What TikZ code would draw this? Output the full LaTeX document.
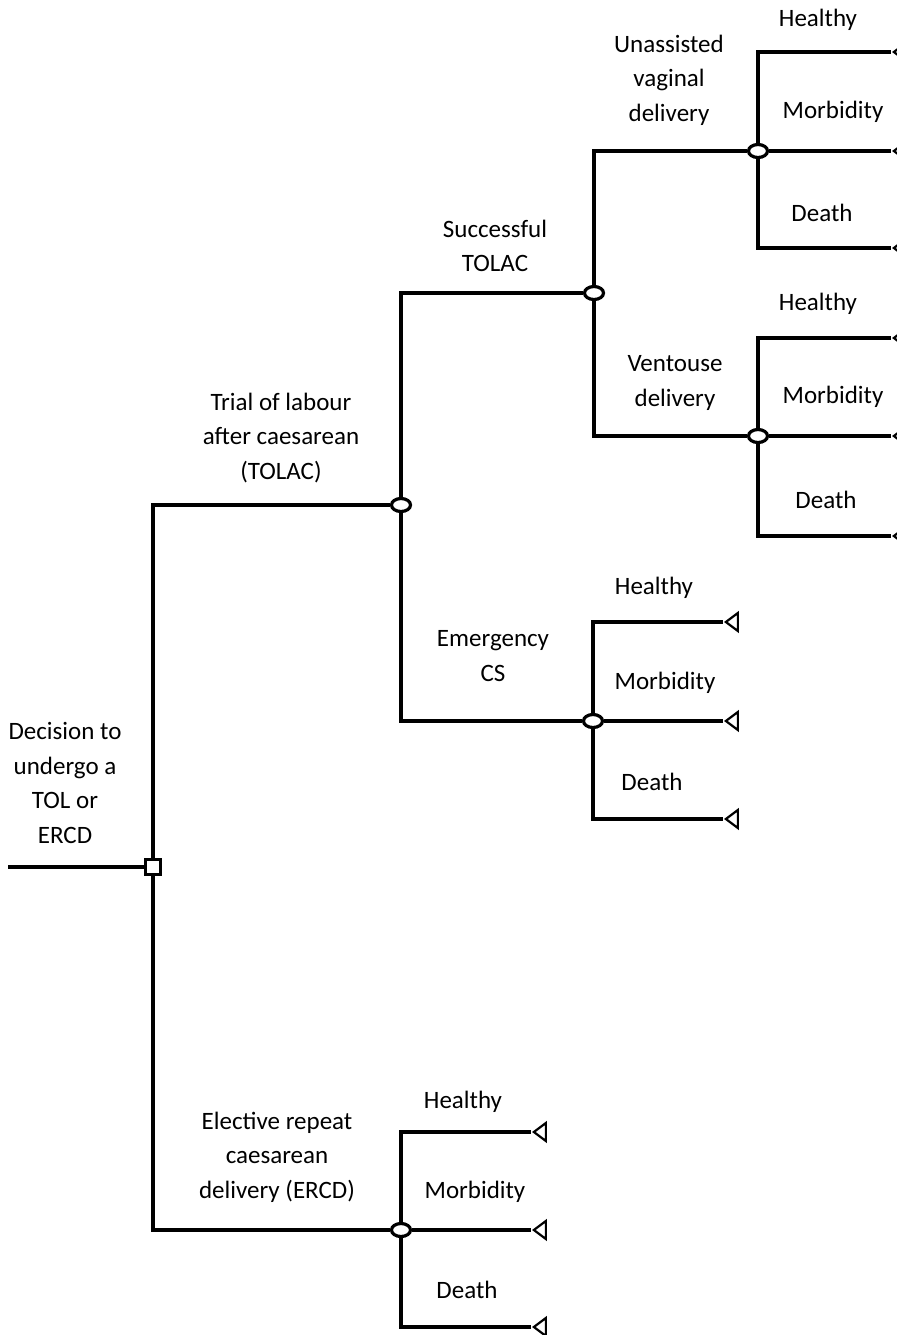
\documentclass[tikz,border=0pt]{standalone}
\usepackage{fontspec}
\setmainfont{Carlito}
\usetikzlibrary{shapes.geometric,positioning}

\tikzset{
    decision/.style={draw, rectangle, fill=white, line width=1.1pt, minimum size=7.5pt, inner sep=0pt},
    chance/.style={draw, ellipse, fill=white, line width=1.6pt, minimum width=9.5pt, minimum height=6.5pt, inner sep=0pt},
    term/.style={draw, fill=white, isosceles triangle, isosceles triangle stretches, shape border rotate=180,
        line width=1.1pt, minimum width=9pt, minimum height=6pt, inner sep=0pt, anchor=apex},
    lbl/.style={align=center, font=\fontsize{12.5}{17.25}\selectfont},
    branch/.style={line width=1.6pt}
}

\begin{document}
\begin{tikzpicture}[x=0.5pt, y=-0.5pt]
    \useasboundingbox (0,0) rectangle (897,1335);

    % Decision and chance nodes
    \coordinate (start) at (8,867);
    \node [decision] (dec) at (153,867) {};
    \node [chance] (tolac) at (401,505) {};
    \node [chance] (ercd) at (401,1230) {};
    \node [chance] (succ) at (594,293) {};
    \node [chance] (emcs) at (593,721) {};
    \node [chance] (uvd) at (758,151) {};
    \node [chance] (vent) at (758,436) {};

    % Branches
    \draw [branch] (start) -- (dec);
    \draw [branch] (dec) |- (tolac);
    \draw [branch] (dec) |- (ercd);
    \draw [branch] (tolac) |- (succ);
    \draw [branch] (tolac) |- (emcs);
    \draw [branch] (succ) |- (uvd);
    \draw [branch] (succ) |- (vent);

    % Outcomes: healthy, morbidity, death
    \foreach \c/\xt/\ya/\yb/\yc in {uvd/891/52/151/248, vent/891/338/436/536,
                                   emcs/723/622/721/819, ercd/531/1132/1230/1327} {
        \node [term] (\c-h) at (\xt,\ya) {};
        \node [term] (\c-m) at (\xt,\yb) {};
        \node [term] (\c-d) at (\xt,\yc) {};
        \draw [branch] (\c) |- (\c-h);
        \draw [branch] (\c) -- (\c-m);
        \draw [branch] (\c) |- (\c-d);
    }

    % Branch labels
    \node [lbl] (l-dec) at (65,783) {Decision to\\undergo a\\TOL or\\ERCD};
    \node [lbl] (l-tolac) at (281,438) {Trial of labour\\after caesarean\\(TOLAC)};
    \node [lbl] (l-ercd) at (277,1157) {Elective repeat\\caesarean\\delivery (ERCD)};
    \node [lbl] (l-succ) at (495,246) {Successful\\TOLAC};
    \node [lbl] (l-emcs) at (493,656) {Emergency\\CS};
    \node [lbl] (l-uvd) at (669,80) {Unassisted\\vaginal\\delivery};
    \node [lbl] (l-vent) at (675,383) {Ventouse\\delivery};

    % Outcome labels
    \node [lbl] (l-uvd-h) at (818,20) {Healthy};
    \node [lbl] (l-uvd-m) at (833,112) {Morbidity};
    \node [lbl] (l-uvd-d) at (822,213) {Death};
    \node [lbl] (l-vent-h) at (818,304) {Healthy};
    \node [lbl] (l-vent-m) at (833,397) {Morbidity};
    \node [lbl] (l-vent-d) at (826,500) {Death};
    \node [lbl] (l-emcs-h) at (654,588) {Healthy};
    \node [lbl] (l-emcs-m) at (665,683) {Morbidity};
    \node [lbl] (l-emcs-d) at (652,782) {Death};
    \node [lbl] (l-ercd-h) at (463,1102) {Healthy};
    \node [lbl] (l-ercd-m) at (475,1192) {Morbidity};
    \node [lbl] (l-ercd-d) at (467,1290) {Death};
\end{tikzpicture}
\end{document}
